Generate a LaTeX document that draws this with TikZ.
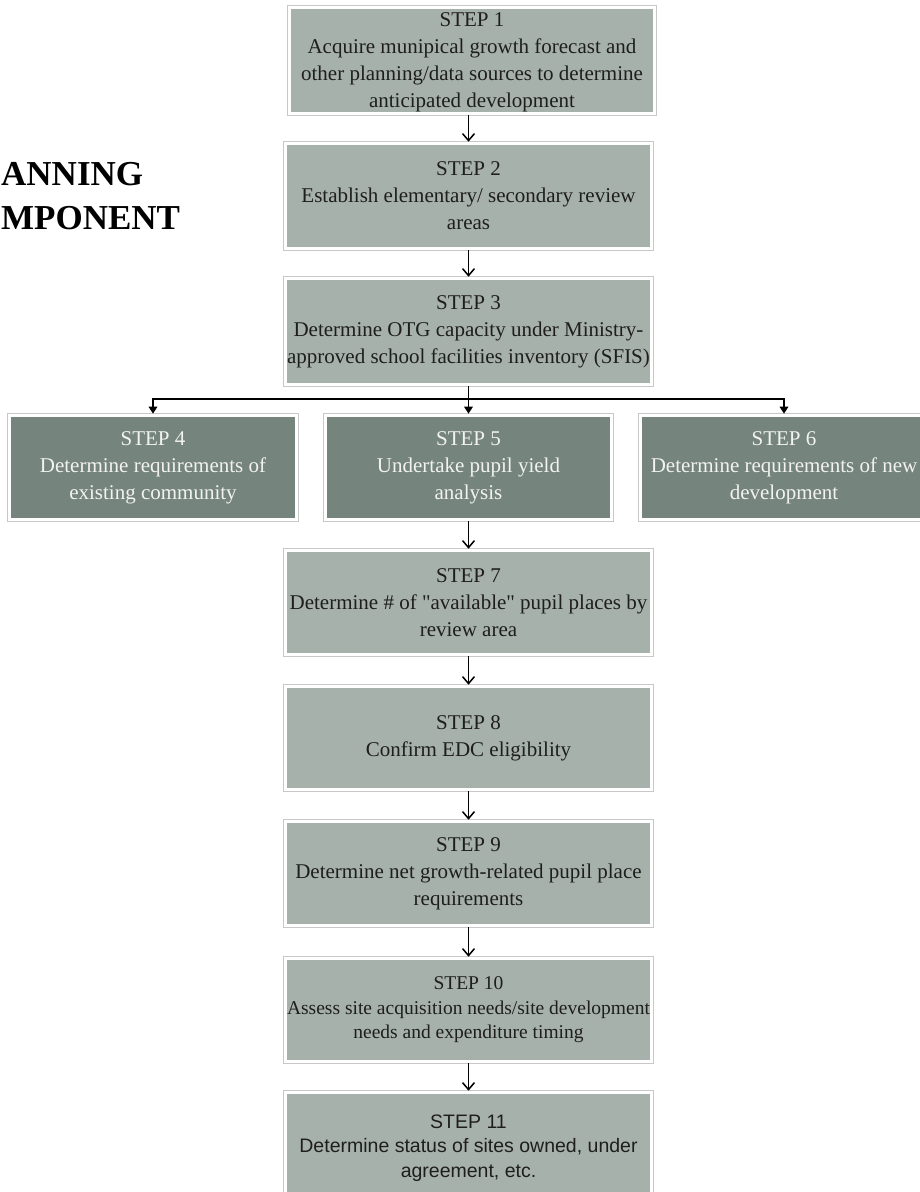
\documentclass[tikz,border=0pt]{standalone}
\usepackage{fontspec}
\setmainfont{Liberation Serif}[Ligatures=TeXOff]
\newfontfamily\arialfont{Liberation Sans}
\usetikzlibrary{arrows.meta}
\definecolor{lightbox}{RGB}{167,177,172}
\definecolor{darkbox}{RGB}{117,133,125}
\definecolor{ringgray}{RGB}{200,200,200}
\definecolor{txtdark}{RGB}{30,30,30}
\definecolor{txtlight}{RGB}{242,242,242}
\newcommand{\nodepth}[1]{\raisebox{0pt}[\height][0pt]{#1}}
\begin{document}
\begin{tikzpicture}[x=1pt,y=-1pt,
  box/.style={rectangle, inner sep=0pt, align=center,
    preaction={draw=ringgray, line width=5pt},
    draw=white, line width=3.6pt,
    font=\fontsize{21}{27}\selectfont},
  lbox/.style={box, fill=lightbox, text=txtdark, minimum width=366pt, minimum height=105pt},
  dbox/.style={box, fill=darkbox, text=txtlight, minimum width=287pt, minimum height=104pt},
  flow/.style={draw=black, line width=1.5pt, -{Straight Barb[length=7pt,width=12pt]}},
  branch/.style={draw=black, line width=1.6pt, -{Triangle[length=7pt,width=8.5pt]}},
  title/.style={font=\fontsize{35}{44}\selectfont\bfseries, anchor=base west, inner sep=0pt, text=black}
]
\useasboundingbox (0,0) rectangle (920,1192);
\clip (0,0) rectangle (920,1192);

\node[title] (t1) at (1,185) {ANNING};
\node[title] (t2) at (1,229) {MPONENT};

\node[lbox, minimum width=365pt, minimum height=106pt] (s1) at (472,60.5)
  {STEP 1\\Acquire munipical growth forecast and\\other planning/data sources to determine\\\nodepth{anticipated development}};
\node[lbox] (s2) at (468.5,196)
  {STEP 2\\Establish elementary/ secondary review\\areas};
\node[lbox, minimum height=106pt] (s3) at (468.5,331.5)
  {STEP 3\\Determine OTG capacity under Ministry-\\approved school facilities inventory (SFIS)};
\node[dbox] (s4) at (153,467.5)
  {STEP 4\\Determine requirements of\\existing community};
\node[dbox, minimum width=286pt] (s5) at (468.5,467.5)
  {STEP 5\\Undertake pupil yield\\analysis};
\node[dbox] (s6) at (784,467.5)
  {STEP 6\\Determine requirements of new\\development};
\node[lbox, minimum height=104pt] (s7) at (468.5,602.5)
  {STEP 7\\Determine \# of "available" pupil places by\\review area};
\node[lbox, minimum height=103pt] (s8) at (468.5,738)
  {STEP 8\\Confirm EDC eligibility};
\node[lbox, minimum height=104pt] (s9) at (468.5,873.5)
  {STEP 9\\Determine net growth-related pupil place\\requirements};
\node[lbox, minimum height=103pt, font=\fontsize{19.5}{24.5}\selectfont] (s10) at (468.5,1010)
  {STEP 10\\Assess site acquisition needs/site development\\needs and expenditure timing};
\node[lbox, minimum height=111pt, font=\arialfont\fontsize{19.5}{24.5}\selectfont] (s11) at (468.5,1148)
  {STEP 11\\Determine status of sites owned, under\\agreement, etc.};

\draw[flow] (s2.north |- s1.south) -- (s2.north);
\draw[flow] (s2.south) -- (s3.north);
\coordinate (j) at (468.5,399);
\draw[branch] (s3.south) -- (s5.north);
\draw[branch] (j) -| (s4.north);
\draw[branch] (j) -| (s6.north);
\draw[flow] (s5.south) -- (s7.north);
\draw[flow] (s7.south) -- (s8.north);
\draw[flow] (s8.south) -- (s9.north);
\draw[flow] (s9.south) -- (s10.north);
\draw[flow] (s10.south) -- (s11.north);
\end{tikzpicture}
\end{document}
